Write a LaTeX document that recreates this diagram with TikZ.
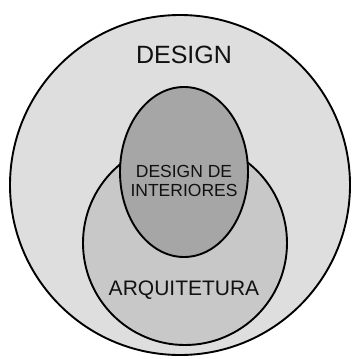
\documentclass[tikz,border=0pt]{standalone}
\usepackage{fontspec}
\setmainfont{Liberation Sans}
\usepackage{tikz}
\usetikzlibrary{shapes.geometric}
\definecolor{outergray}{HTML}{DEDEDE}
\definecolor{midgray}{HTML}{C8C8C8}
\definecolor{innergray}{HTML}{A6A6A6}
\definecolor{textgray}{HTML}{111111}
\tikzstyle{setline} = [draw=black, line width=1.9pt, inner sep=0pt]
\tikzstyle{setlabel} = [text=textgray, inner sep=0pt, align=center]

\begin{document}
\begin{tikzpicture}[x=1pt, y=-1pt]

\useasboundingbox[fill=white] (0,0) rectangle (351,359);

\node (design)     [circle, setline, fill=outergray, minimum size=340pt] at (180,185) {};
\node (arquit)     [circle, setline, fill=midgray, minimum size=204pt] at (185,243) {};
\node (interiores) [ellipse, setline, fill=innergray, minimum width=128pt, minimum height=170pt] at (184,172) {};

\node (designtxt)     [setlabel, font=\fontsize{25}{28}\selectfont] at (184,55) {DESIGN};
\node (interiorestxt) [setlabel, font=\fontsize{17.5}{19}\selectfont] at (184,181) {DESIGN DE\\INTERIORES};
\node (arquittxt)     [setlabel, font=\fontsize{21}{24}\selectfont] at (184,290) {ARQUITETURA};

\end{tikzpicture}
\end{document}
